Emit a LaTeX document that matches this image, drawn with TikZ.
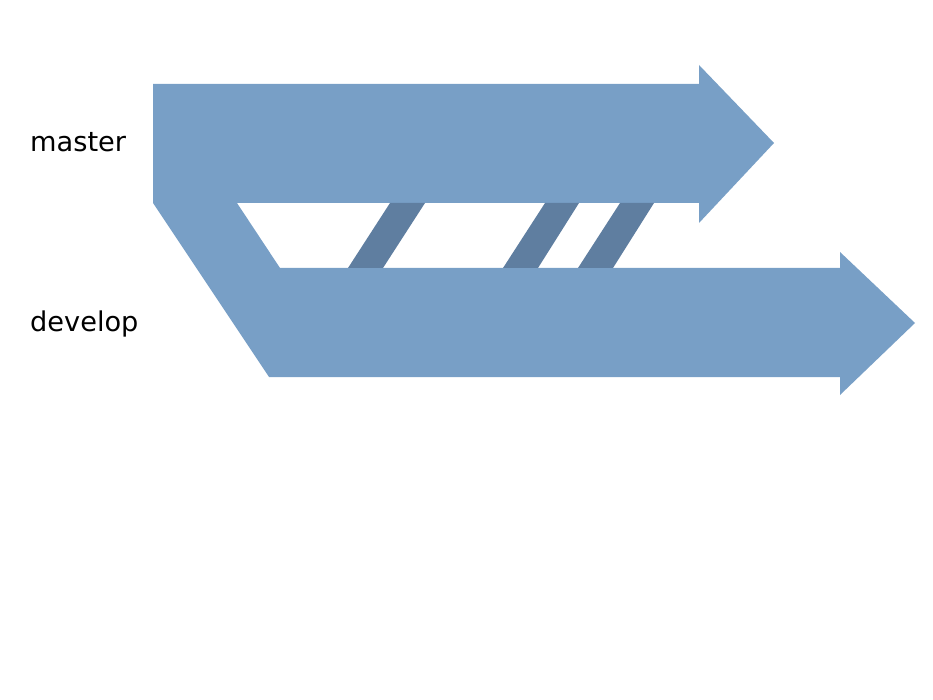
\documentclass[tikz,border=0pt]{standalone}
\usepackage{fontspec}
\setmainfont{DejaVu Sans}
\definecolor{branchblue}{RGB}{120,159,198}
\definecolor{mergeblue}{RGB}{95,126,160}
\begin{document}
\begin{tikzpicture}[x=1pt,y=-1pt,
  branch/.style={fill=branchblue,draw=none},
  mergestripe/.style={fill=mergeblue,draw=none},
  label/.style={font=\fontsize{27.2}{31}\selectfont,anchor=west,inner sep=0pt,text=black}]
\useasboundingbox (0,0) rectangle (933,700);
% branches: master arrow, branch-off connector, develop arrow
\fill[branch] (153,84) -- (699,84) -- (699,65) -- (774,143) -- (699,223) -- (699,203)
  -- (237,203) -- (280,268) -- (840,268) -- (840,252) -- (915,323) -- (840,395)
  -- (840,377) -- (269,377) -- (153,203) -- cycle;
% merge stripes
\fill[mergestripe] (390,203) -- (425,203) -- (383,268) -- (348,268) -- cycle;
\fill[mergestripe] (545,203) -- (579,203) -- (538,268) -- (503,268) -- cycle;
\fill[mergestripe] (620,203) -- (654,203) -- (613,268) -- (578,268) -- cycle;
\node[label] (master) at (30,142) {master};
\node[label] (develop) at (30,324) {develop};
\end{tikzpicture}
\end{document}
